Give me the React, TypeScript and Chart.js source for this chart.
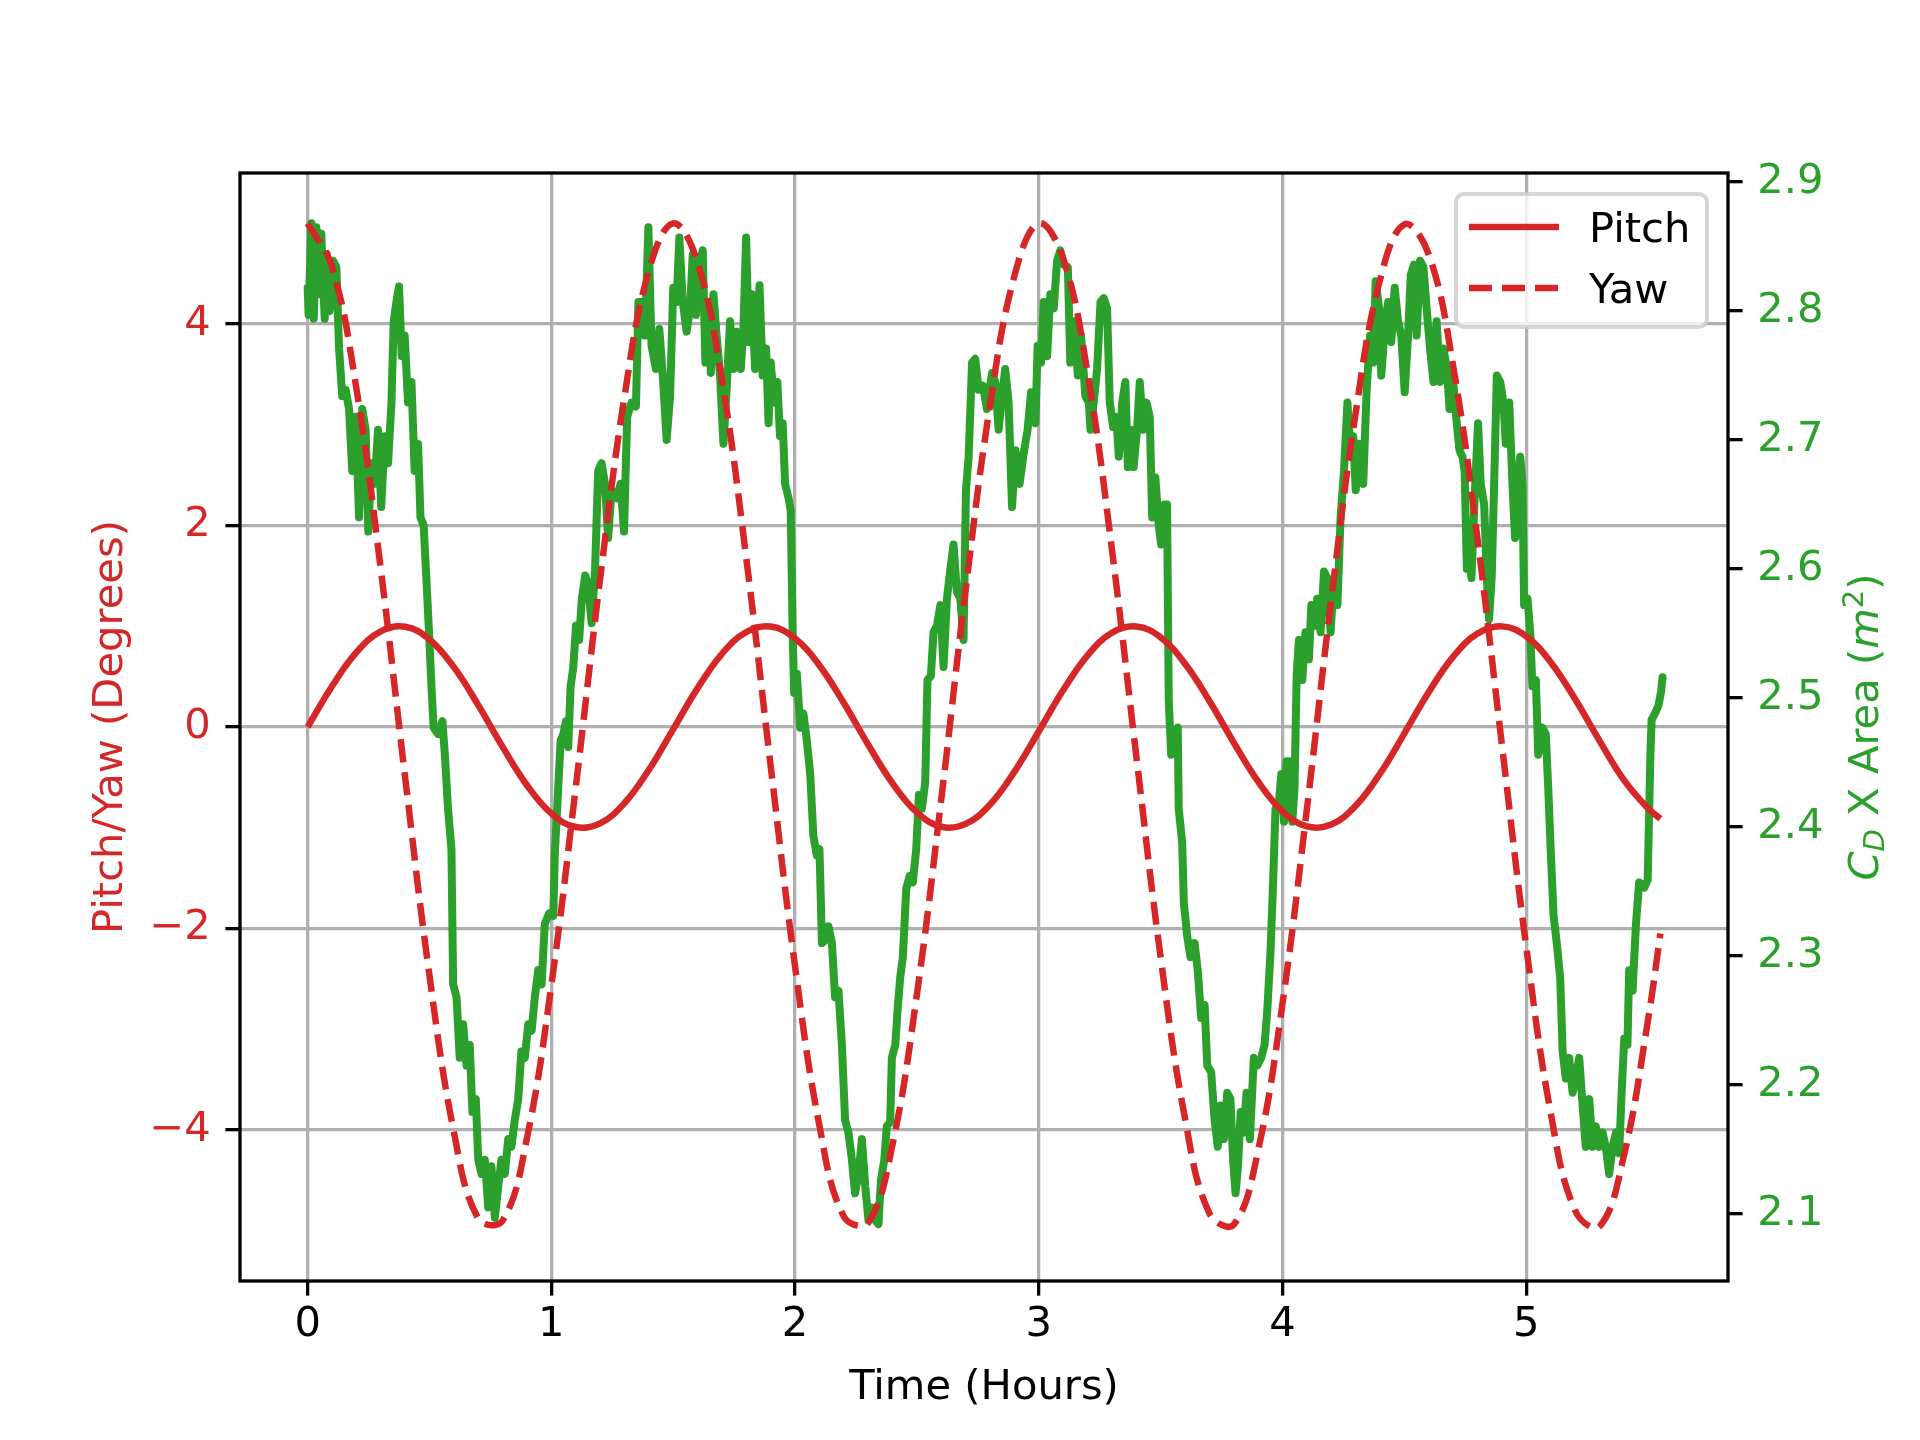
import { useEffect, useRef } from "react";
import { Chart, registerables } from "chart.js";

Chart.register(...registerables);

const FONT = "DejaVu Sans";
const FONT_SIZE = 41.67;
const RED = "#d62728";
const GREEN = "#2ca02c";

// x ticks and axis tick values
const xTicks = [0, 1, 2, 3, 4, 5];
const angleTicks = [-4, -2, 0, 2, 4];
const areaTicks = [2.1, 2.2, 2.3, 2.4, 2.5, 2.6, 2.7, 2.8, 2.9];

// pitch / yaw, read every 0.1 h
const angleHours = [
  0, 0.1, 0.2, 0.3, 0.4, 0.5, 0.6, 0.7, 0.8, 0.9,
  1.0, 1.1, 1.2, 1.3, 1.4, 1.5, 1.6, 1.7, 1.8, 1.9,
  2.0, 2.1, 2.2, 2.3, 2.4, 2.5, 2.6, 2.7, 2.8, 2.9,
  3.0, 3.1, 3.2, 3.3, 3.4, 3.5, 3.6, 3.7, 3.8, 3.9,
  4.0, 4.1, 4.2, 4.3, 4.4, 4.5, 4.6, 4.7, 4.8, 4.9,
  5.0, 5.1, 5.2, 5.3, 5.4, 5.5, 5.55,
];
const pitch = [
  0.0, 0.405, 0.741, 0.95, 0.995, 0.869, 0.594, 0.217, -0.197, -0.578,
  -0.859, -0.993, -0.956, -0.755, -0.425, -0.021, 0.386, 0.727, 0.943, 0.997,
  0.879, 0.611, 0.238, -0.176, -0.56, -0.848, -0.99, -0.962, -0.769, -0.443,
  -0.042, 0.367, 0.712, 0.936, 0.998, 0.889, 0.628, 0.258, -0.156, -0.543,
  -0.837, -0.987, -0.968, -0.782, -0.462, -0.063, 0.347, 0.698, 0.928, 0.999,
  0.899, 0.644, 0.278, -0.135, -0.525, -0.81, -0.91,
];
const yaw = [
  5.0, 4.57, 3.36, 1.57, -0.5, -2.47, -4.02, -4.88, -4.9, -4.08,
  -2.56, -0.6, 1.47, 3.28, 4.53, 5.0, 4.61, 3.44, 1.67, -0.39,
  -2.38, -3.96, -4.86, -4.92, -4.14, -2.65, -0.71, 1.37, 3.2, 4.48,
  5.0, 4.65, 3.51, 1.76, -0.29, -2.29, -3.89, -4.83, -4.94, -4.2,
  -2.74, -0.81, 1.27, 3.12, 4.44, 4.99, 4.69, 3.58, 1.86, -0.18,
  -2.19, -3.83, -4.8, -4.96, -4.26, -2.9, -2.05,
];

// drag area series
const areaHours = [
  0.0, 0.004, 0.015, 0.025, 0.036, 0.046, 0.056, 0.07, 0.079, 0.09,
  0.104, 0.118, 0.129, 0.142, 0.156, 0.17, 0.183, 0.197, 0.211, 0.224,
  0.238, 0.249, 0.261, 0.275, 0.289, 0.302, 0.316, 0.33, 0.344, 0.353,
  0.364, 0.375, 0.386, 0.398, 0.412, 0.426, 0.439, 0.453, 0.463, 0.476,
  0.487, 0.498, 0.508, 0.517, 0.535, 0.553, 0.563, 0.576, 0.59, 0.597,
  0.611, 0.624, 0.638, 0.652, 0.665, 0.676, 0.69, 0.7, 0.713, 0.727,
  0.741, 0.754, 0.768, 0.782, 0.795, 0.809, 0.823, 0.836, 0.85, 0.864,
  0.877, 0.891, 0.905, 0.919, 0.932, 0.946, 0.96, 0.973, 0.991, 1.008,
  1.014, 1.028, 1.038, 1.049, 1.06, 1.069, 1.079, 1.09, 1.101, 1.114,
  1.125, 1.139, 1.151, 1.165, 1.179, 1.192, 1.206, 1.22, 1.233, 1.247,
  1.268, 1.284, 1.298, 1.311, 1.329, 1.347, 1.357, 1.37, 1.384, 1.398,
  1.411, 1.429, 1.443, 1.457, 1.473, 1.487, 1.5, 1.514, 1.525, 1.539,
  1.555, 1.569, 1.58, 1.593, 1.607, 1.621, 1.632, 1.644, 1.654, 1.665,
  1.678, 1.692, 1.706, 1.719, 1.733, 1.747, 1.76, 1.777, 1.788, 1.799,
  1.81, 1.822, 1.836, 1.854, 1.867, 1.881, 1.891, 1.9, 1.914, 1.927,
  1.938, 1.949, 1.959, 1.973, 1.982, 1.99, 1.996, 2.007, 2.021, 2.034,
  2.048, 2.062, 2.075, 2.089, 2.1, 2.11, 2.123, 2.137, 2.151, 2.164,
  2.178, 2.192, 2.205, 2.219, 2.233, 2.246, 2.26, 2.274, 2.288, 2.301,
  2.315, 2.329, 2.342, 2.352, 2.366, 2.376, 2.39, 2.397, 2.411, 2.42,
  2.431, 2.442, 2.456, 2.47, 2.483, 2.497, 2.508, 2.52, 2.534, 2.543,
  2.557, 2.568, 2.582, 2.596, 2.609, 2.623, 2.637, 2.65, 2.664, 2.678,
  2.691, 2.701, 2.712, 2.726, 2.739, 2.753, 2.771, 2.787, 2.808, 2.821,
  2.835, 2.849, 2.862, 2.876, 2.89, 2.904, 2.921, 2.938, 2.954, 2.968,
  2.986, 2.995, 3.009, 3.02, 3.034, 3.047, 3.061, 3.075, 3.088, 3.102,
  3.119, 3.129, 3.146, 3.16, 3.173, 3.191, 3.205, 3.212, 3.225, 3.239,
  3.253, 3.266, 3.28, 3.291, 3.305, 3.318, 3.328, 3.342, 3.355, 3.365,
  3.376, 3.389, 3.403, 3.414, 3.428, 3.442, 3.455, 3.465, 3.478, 3.492,
  3.502, 3.515, 3.526, 3.533, 3.543, 3.554, 3.57, 3.574, 3.588, 3.595,
  3.609, 3.622, 3.639, 3.652, 3.666, 3.68, 3.691, 3.707, 3.721, 3.734,
  3.745, 3.759, 3.773, 3.786, 3.797, 3.807, 3.817, 3.828, 3.841, 3.852,
  3.866, 3.882, 3.896, 3.912, 3.926, 3.937, 3.951, 3.962, 3.971, 3.985,
  3.995, 4.006, 4.016, 4.03, 4.04, 4.049, 4.058, 4.067, 4.081, 4.094,
  4.108, 4.118, 4.131, 4.142, 4.156, 4.17, 4.183, 4.197, 4.211, 4.225,
  4.238, 4.252, 4.266, 4.277, 4.29, 4.3, 4.314, 4.331, 4.345, 4.359,
  4.372, 4.382, 4.396, 4.405, 4.419, 4.433, 4.446, 4.46, 4.474, 4.487,
  4.501, 4.515, 4.526, 4.539, 4.55, 4.564, 4.578, 4.591, 4.605, 4.619,
  4.632, 4.646, 4.66, 4.674, 4.685, 4.698, 4.712, 4.726, 4.738, 4.747,
  4.756, 4.765, 4.775, 4.788, 4.802, 4.813, 4.827, 4.838, 4.847, 4.858,
  4.868, 4.879, 4.893, 4.906, 4.916, 4.93, 4.943, 4.954, 4.964, 4.975,
  4.984, 4.991, 5.005, 5.016, 5.025, 5.039, 5.049, 5.066, 5.08, 5.09,
  5.101, 5.112, 5.125, 5.139, 5.149, 5.162, 5.176, 5.19, 5.203, 5.217,
  5.231, 5.244, 5.258, 5.272, 5.285, 5.299, 5.313, 5.326, 5.34, 5.354,
  5.368, 5.381, 5.391, 5.402, 5.415, 5.422, 5.436, 5.45, 5.463, 5.484,
  5.498, 5.509, 5.514, 5.528, 5.542, 5.553, 5.559,
];
const area = [
  2.818, 2.797, 2.868, 2.794, 2.865, 2.813, 2.86, 2.794, 2.844, 2.8,
  2.839, 2.834, 2.771, 2.734, 2.739, 2.724, 2.676, 2.718, 2.64, 2.724,
  2.708, 2.629, 2.682, 2.666, 2.708, 2.648, 2.703, 2.682, 2.729, 2.792,
  2.807, 2.819, 2.765, 2.781, 2.729, 2.745, 2.676, 2.697, 2.64, 2.634,
  2.593, 2.551, 2.509, 2.477, 2.472, 2.482, 2.456, 2.414, 2.383, 2.278,
  2.268, 2.221, 2.247, 2.215, 2.231, 2.179, 2.189, 2.142, 2.131, 2.142,
  2.105, 2.137, 2.097, 2.121, 2.142, 2.131, 2.158, 2.152, 2.173, 2.189,
  2.226, 2.221, 2.247, 2.242, 2.268, 2.289, 2.278, 2.325, 2.333, 2.331,
  2.378, 2.43, 2.467, 2.472, 2.482, 2.462, 2.509, 2.524, 2.556, 2.545,
  2.577, 2.595, 2.587, 2.558, 2.598, 2.676, 2.682, 2.666, 2.624, 2.661,
  2.655, 2.666, 2.629, 2.718, 2.729, 2.726, 2.807, 2.807, 2.781, 2.865,
  2.773, 2.755, 2.786, 2.75, 2.7, 2.734, 2.818, 2.807, 2.857, 2.807,
  2.784, 2.802, 2.844, 2.797, 2.836, 2.847, 2.76, 2.797, 2.752, 2.813,
  2.781, 2.75, 2.697, 2.739, 2.792, 2.755, 2.784, 2.755, 2.786, 2.857,
  2.776, 2.813, 2.755, 2.82, 2.75, 2.771, 2.713, 2.76, 2.729, 2.745,
  2.703, 2.713, 2.666, 2.655, 2.645, 2.551, 2.504, 2.519, 2.477, 2.488,
  2.467, 2.441, 2.393, 2.378, 2.383, 2.31, 2.312, 2.323, 2.31, 2.268,
  2.273, 2.231, 2.173, 2.163, 2.142, 2.116, 2.131, 2.158, 2.121, 2.095,
  2.105, 2.095, 2.092, 2.126, 2.142, 2.168, 2.171, 2.221, 2.231, 2.257,
  2.283, 2.299, 2.352, 2.362, 2.357, 2.383, 2.425, 2.414, 2.435, 2.514,
  2.517, 2.551, 2.556, 2.572, 2.524, 2.577, 2.6, 2.619, 2.582, 2.577,
  2.545, 2.661, 2.687, 2.76, 2.763, 2.739, 2.742, 2.724, 2.752, 2.745,
  2.708, 2.734, 2.755, 2.729, 2.648, 2.692, 2.666, 2.69, 2.708, 2.737,
  2.713, 2.773, 2.76, 2.807, 2.765, 2.813, 2.802, 2.839, 2.847, 2.836,
  2.834, 2.76, 2.792, 2.75, 2.781, 2.734, 2.729, 2.708, 2.729, 2.755,
  2.807, 2.81, 2.802, 2.729, 2.71, 2.718, 2.687, 2.729, 2.745, 2.679,
  2.708, 2.679, 2.708, 2.745, 2.708, 2.729, 2.718, 2.64, 2.671, 2.634,
  2.619, 2.65, 2.65, 2.498, 2.456, 2.467, 2.477, 2.414, 2.388, 2.341,
  2.315, 2.299, 2.31, 2.289, 2.252, 2.262, 2.215, 2.21, 2.173, 2.152,
  2.184, 2.158, 2.194, 2.189, 2.142, 2.116, 2.137, 2.179, 2.163, 2.194,
  2.158, 2.221, 2.215, 2.221, 2.231, 2.257, 2.305, 2.362, 2.414, 2.419,
  2.441, 2.404, 2.451, 2.451, 2.404, 2.43, 2.519, 2.545, 2.514, 2.551,
  2.53, 2.572, 2.556, 2.577, 2.551, 2.598, 2.593, 2.551, 2.593, 2.572,
  2.64, 2.676, 2.729, 2.697, 2.703, 2.661, 2.697, 2.666, 2.739, 2.781,
  2.76, 2.823, 2.802, 2.75, 2.786, 2.807, 2.776, 2.818, 2.792, 2.781,
  2.737, 2.781, 2.828, 2.836, 2.781, 2.839, 2.834, 2.802, 2.771, 2.745,
  2.792, 2.745, 2.771, 2.755, 2.724, 2.75, 2.718, 2.692, 2.687, 2.676,
  2.6, 2.614, 2.593, 2.655, 2.713, 2.666, 2.65, 2.593, 2.561, 2.593,
  2.666, 2.75, 2.745, 2.729, 2.697, 2.729, 2.666, 2.624, 2.666, 2.687,
  2.666, 2.572, 2.577, 2.551, 2.509, 2.514, 2.456, 2.477, 2.472, 2.43,
  2.378, 2.331, 2.31, 2.283, 2.226, 2.205, 2.221, 2.194, 2.205, 2.221,
  2.184, 2.152, 2.189, 2.152, 2.168, 2.152, 2.163, 2.152, 2.131, 2.152,
  2.163, 2.147, 2.194, 2.236, 2.231, 2.289, 2.273, 2.325, 2.357, 2.353,
  2.359, 2.455, 2.483, 2.488, 2.494, 2.505, 2.516,
];

const legendPlugin = {
  id: "mplLegend",
  afterDraw(chart: any) {
    const { ctx, chartArea: a } = chart;
    ctx.save();
    // axes frame
    ctx.strokeStyle = "#000";
    ctx.lineWidth = 3.3;
    ctx.strokeRect(a.left, a.top, a.right - a.left, a.bottom - a.top);

    // legend box
    ctx.beginPath();
    ctx.roundRect(1456, 194, 251, 133, 8);
    ctx.fillStyle = "rgba(255,255,255,0.8)";
    ctx.fill();
    ctx.strokeStyle = "rgba(204,204,204,0.8)";
    ctx.lineWidth = 4;
    ctx.stroke();

    const rows = chart.data.datasets.filter((d: any) => d.showInLegend);
    rows.forEach((d: any, i: number) => {
      const y = 227 + i * 61;
      ctx.beginPath();
      ctx.setLineDash(d.borderDash || []);
      ctx.strokeStyle = d.borderColor;
      ctx.lineWidth = d.borderWidth;
      ctx.moveTo(1469, y);
      ctx.lineTo(1559, y);
      ctx.stroke();
      ctx.setLineDash([]);
      ctx.fillStyle = "#000";
      ctx.font = `${FONT_SIZE}px "${FONT}"`;
      ctx.textBaseline = "alphabetic";
      ctx.textAlign = "left";
      ctx.fillText(d.label, 1589, y + 15);
    });

    // right axis title: C_D X Area (m^2), rotated
    const parts = [
      { text: "C", font: `italic ${FONT_SIZE}px "${FONT}"`, dy: 0 },
      { text: "D", font: `italic 29px "${FONT}"`, dy: 6 },
      { text: " X Area (", font: `${FONT_SIZE}px "${FONT}"`, dy: 0 },
      { text: "m", font: `italic ${FONT_SIZE}px "${FONT}"`, dy: 0 },
      { text: "2", font: `29px "${FONT}"`, dy: -15 },
      { text: ")", font: `${FONT_SIZE}px "${FONT}"`, dy: 0 },
    ];
    let total = 0;
    const widths = parts.map((p) => {
      ctx.font = p.font;
      const w = ctx.measureText(p.text).width;
      total += w;
      return w;
    });
    ctx.translate(1864, (a.top + a.bottom) / 2);
    ctx.rotate(-Math.PI / 2);
    ctx.fillStyle = GREEN;
    ctx.textBaseline = "alphabetic";
    ctx.textAlign = "left";
    let x = -total / 2;
    parts.forEach((p, i) => {
      ctx.font = p.font;
      ctx.fillText(p.text, x, 14 + p.dy);
      x += widths[i];
    });
    ctx.restore();
  },
};

const minus = (v: number) => (v < 0 ? "\u2212" + Math.abs(v) : String(v));

export default function App() {
  const canvasRef = useRef<HTMLCanvasElement>(null);
  const chartRef = useRef<any>(null);

  useEffect(() => {
    document.body.style.margin = "0";
    if (chartRef.current) chartRef.current.destroy();
    const ctx = canvasRef.current?.getContext("2d");
    if (!ctx) return;

    const tickFont = { family: FONT, size: FONT_SIZE };

    const config: any = {
      type: "line",
      data: {
        datasets: [
          {
            label: "Pitch",
            showInLegend: true,
            data: angleHours.map((t, i) => ({ x: t, y: pitch[i] })),
            borderColor: RED,
            borderWidth: 6.5,
            pointRadius: 0,
            tension: 0.4,
            borderJoinStyle: "round",
            yAxisID: "y",
          },
          {
            label: "Yaw",
            showInLegend: true,
            data: angleHours.map((t, i) => ({ x: t, y: yaw[i] })),
            borderColor: RED,
            borderWidth: 6.5,
            borderDash: [23, 10],
            pointRadius: 0,
            tension: 0.4,
            yAxisID: "y",
          },
          {
            label: "CdA",
            data: areaHours.map((t, i) => ({ x: t, y: area[i] })),
            borderColor: GREEN,
            borderWidth: 8,
            pointRadius: 0,
            tension: 0,
            borderJoinStyle: "round",
            borderCapStyle: "round",
            yAxisID: "y2",
          },
        ],
      },
      options: {
        responsive: false,
        devicePixelRatio: 1,
        animation: false,
        layout: { padding: { top: 173, left: 0, right: 0, bottom: 0 } },
        plugins: { legend: { display: false }, tooltip: { enabled: false } },
        scales: {
          x: {
            type: "linear",
            position: "bottom",
            min: -0.2775,
            max: 5.8275,
            afterBuildTicks: (s: any) => {
              s.ticks = xTicks.map((value) => ({ value }));
            },
            afterFit: (s: any) => {
              s.height = 159;
            },
            border: { display: false },
            grid: {
              color: "#b0b0b0",
              lineWidth: 3.3,
              tickColor: "#000",
              tickWidth: 3.3,
              tickLength: 14.6,
            },
            ticks: { color: "#000", font: tickFont, padding: 5, maxRotation: 0 },
            title: {
              display: true,
              text: "Time (Hours)",
              color: "#000",
              font: tickFont,
              padding: { top: 0, bottom: 27 },
            },
          },
          y: {
            type: "linear",
            position: "left",
            min: -5.5,
            max: 5.5,
            afterBuildTicks: (s: any) => {
              s.ticks = angleTicks.map((value) => ({ value }));
            },
            afterFit: (s: any) => {
              s.width = 240;
            },
            border: { display: false },
            grid: {
              color: "#b0b0b0",
              lineWidth: 3.3,
              tickColor: "#000",
              tickWidth: 3.3,
              tickLength: 14.6,
            },
            ticks: {
              color: RED,
              font: tickFont,
              padding: 14.6,
              callback: (v: number) => minus(v),
            },
            title: {
              display: true,
              text: "Pitch/Yaw (Degrees)",
              color: RED,
              font: tickFont,
              padding: { top: 86, bottom: 0 },
            },
          },
          y2: {
            type: "linear",
            position: "right",
            min: 2.048,
            max: 2.907,
            afterBuildTicks: (s: any) => {
              s.ticks = areaTicks.map((value) => ({ value }));
            },
            afterFit: (s: any) => {
              s.width = 192;
            },
            border: { display: false },
            grid: {
              drawOnChartArea: false,
              color: "#000",
              lineWidth: 3.3,
              tickColor: "#000",
              tickWidth: 3.3,
              tickLength: 14.6,
            },
            ticks: {
              color: GREEN,
              font: tickFont,
              padding: 14.6,
              callback: (v: number) => v.toFixed(1),
            },
          },
        },
      },
      plugins: [legendPlugin],
    };

    chartRef.current = new Chart(ctx, config);
    return () => {
      if (chartRef.current) {
        chartRef.current.destroy();
        chartRef.current = null;
      }
    };
  }, []);

  return (
    <div style={{ width: 1920, height: 1440, background: "#fff" }}>
      <canvas ref={canvasRef} width={1920} height={1440} />
    </div>
  );
}
